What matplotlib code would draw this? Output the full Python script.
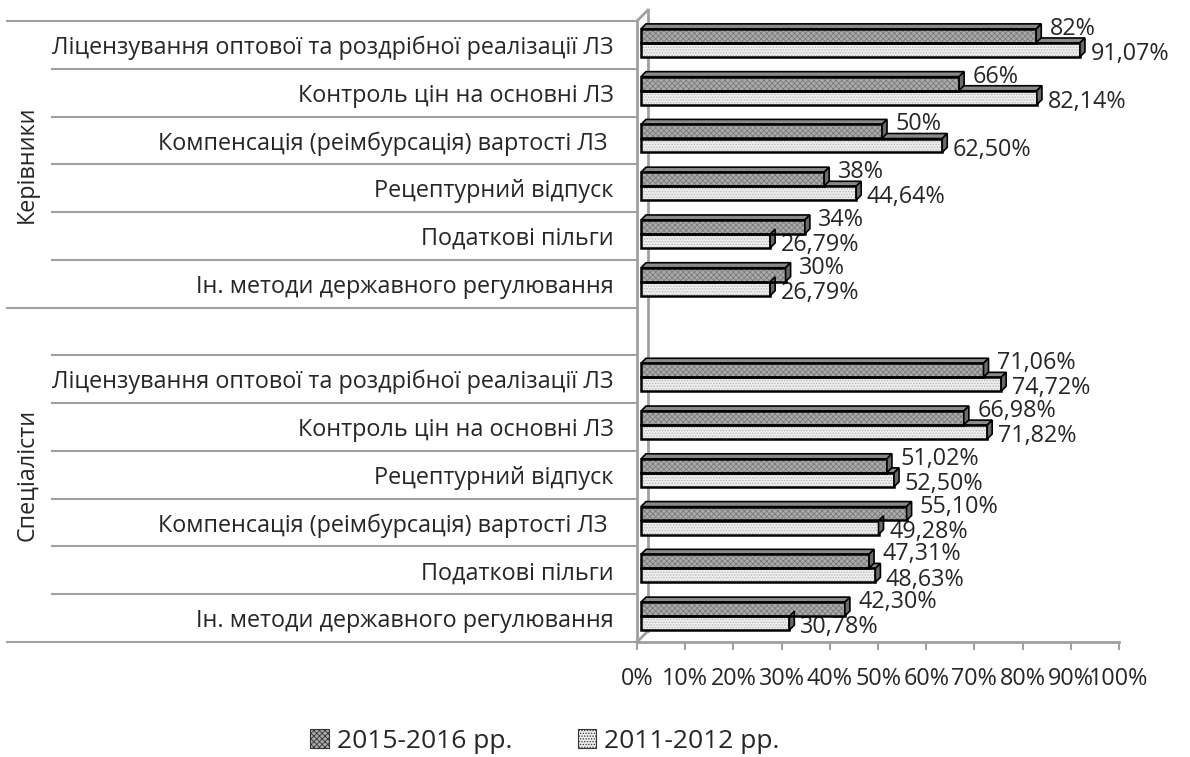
import matplotlib
matplotlib.use('Agg')
import matplotlib.pyplot as plt
from matplotlib.patches import Polygon, Patch
import matplotlib.transforms as mtrans

plt.rcParams['font.family'] = ['Open Sans', 'DejaVu Sans']
plt.rcParams['hatch.linewidth'] = 0.6

# дані
groups = ['Керівники', 'Спеціалісти']
cats_ker = ['Ліцензування оптової та роздрібної реалізації ЛЗ', 'Контроль цін на основні ЛЗ',
            'Компенсація (реімбурсація) вартості ЛЗ ', 'Рецептурний відпуск',
            'Податкові пільги', 'Ін. методи державного регулювання']
ker_2015 = [82, 66, 50, 38, 34, 30]
ker_2011 = [91.07, 82.14, 62.50, 44.64, 26.79, 26.79]
cats_spec = ['Ліцензування оптової та роздрібної реалізації ЛЗ', 'Контроль цін на основні ЛЗ',
             'Рецептурний відпуск', 'Компенсація (реімбурсація) вартості ЛЗ ',
             'Податкові пільги', 'Ін. методи державного регулювання']
spec_2015 = [71.06, 66.98, 51.02, 55.10, 47.31, 42.30]
spec_2011 = [74.72, 71.82, 52.50, 49.28, 48.63, 30.78]
series_names = ['2015-2016 рр.', '2011-2012 рр.']
xticks = list(range(0, 101, 10))

# категорії зверху вниз, з порожнім рядком між групами
cats = cats_ker + [''] + cats_spec
v2015 = ker_2015 + [None] + spec_2015
v2011 = ker_2011 + [None] + spec_2011
lab2015 = ['{:.0f}%'.format(v) for v in ker_2015] + [''] + \
          ['{:.2f}%'.format(v).replace('.', ',') for v in spec_2015]
lab2011 = ['{:.2f}%'.format(v).replace('.', ',') for v in ker_2011] + [''] + \
          ['{:.2f}%'.format(v).replace('.', ',') for v in spec_2011]

TXT = '#262626'
FS = 16.8

n = len(cats)
W, H = 1190, 757
fig = plt.figure(figsize=(W / 100, H / 100), dpi=100)
ax = fig.add_axes([637 / W, 1 - 642 / H, (1119 - 637) / W, (642 - 21) / H])
ax.set_xlim(0, 100)
ax.set_ylim(-0.5, n - 0.5)

pxx = (1119 - 637) / 100.0      # пікселів на 1%
pxy = (642 - 21) / n            # пікселів на рядок
dx, dy = 5 / pxx, 5 / pxy       # глибина 3D
x0 = 4 / pxx                    # зсув початку стовпчиків
h = 0.29

styles = {
    '2015': dict(fc='#ababab', hc='#7a7a7a', hatch='xxxxxx'),
    '2011': dict(fc='#ededed', hc='#b4b4b4', hatch='......'),
}


def bar3d(y, v, st):
    ax.barh(y, v, left=x0, height=h, color=st['fc'], edgecolor=st['hc'], hatch=st['hatch'],
            lw=0, zorder=3)
    ax.barh(y, v, left=x0, height=h, fill=False, edgecolor='black', lw=1.8, zorder=4)
    x1 = x0 + v
    yt, yb = y + h / 2, y - h / 2
    top = Polygon([(x0, yt), (x1, yt), (x1 + dx, yt + dy), (x0 + dx, yt + dy)],
                  closed=True, fc='#8a8a8a', ec='black', lw=1.2, zorder=2)
    side = Polygon([(x1, yb), (x1 + dx, yb + dy), (x1 + dx, yt + dy), (x1, yt)],
                   closed=True, fc='#6a6a6a', ec='black', lw=1.2, zorder=4)
    ax.add_patch(top)
    ax.add_patch(side)


for i in range(n):
    yc = n - 1 - i
    if v2015[i] is None:
        continue
    y_dark = yc + 0.19
    y_light = yc - 0.105
    bar3d(y_light, v2011[i], styles['2011'])
    bar3d(y_dark, v2015[i], styles['2015'])
    ax.annotate(lab2015[i], (x0 + v2015[i] + dx, y_dark), xytext=(6, 5),
                textcoords='offset points', va='center', ha='left', fontsize=FS, color=TXT)
    ax.annotate(lab2011[i], (x0 + v2011[i] + dx, y_light), xytext=(4, -3),
                textcoords='offset points', va='center', ha='left', fontsize=FS, color=TXT)

# осі
for s in ['top', 'right']:
    ax.spines[s].set_visible(False)
for s in ['left', 'bottom']:
    ax.spines[s].set_color('#a0a0a0')
    ax.spines[s].set_linewidth(2)
ax.set_xticks(xticks)
ax.set_xticklabels(['{}%'.format(t) for t in xticks], fontsize=FS, color=TXT)
ax.tick_params(axis='x', length=6, width=1.5, color='#a0a0a0', pad=12)
ax.set_yticks([n - 1 - i for i in range(n)])
ax.set_yticklabels(cats, fontsize=FS, color=TXT)
ax.tick_params(axis='y', length=0, pad=17)

# задня стінка
wx, wy = 11 / pxx, 11 / pxy
ax.plot([wx, wx], [-0.5 + wy, n - 0.5 + wy], color='#a0a0a0', lw=2, clip_on=False, zorder=1)
ax.plot([0, wx], [n - 0.5, n - 0.5 + wy], color='#a0a0a0', lw=2, clip_on=False, zorder=1)
ax.plot([0, wx], [-0.5, -0.5 + wy], color='#a0a0a0', lw=2, clip_on=False, zorder=1)

# роздільники категорій і груп
tr = mtrans.blended_transform_factory(ax.transAxes, ax.transData)
xl_cat = (52 - 637) / (1119 - 637)
xl_grp = (7 - 637) / (1119 - 637)
group_edges = [0, 6, n]
for k in range(n + 1):
    yb = n - 0.5 - k
    xl = xl_grp if k in group_edges else xl_cat
    ax.plot([xl, 0], [yb, yb], color='#a0a0a0', lw=1.5, transform=tr, clip_on=False)

# назви груп
xg = (27 - 637) / (1119 - 637)
ax.text(xg, n - 1 - 2.5, groups[0], rotation=90, transform=tr, ha='center', va='center',
        fontsize=FS, color=TXT)
ax.text(xg, n - 1 - 9, groups[1], rotation=90, transform=tr, ha='center', va='center',
        fontsize=FS, color=TXT)

handles = [Patch(fc=styles['2015']['fc'], ec='#333333', hatch=styles['2015']['hatch'], lw=0.8),
           Patch(fc=styles['2011']['fc'], ec='#333333', hatch=styles['2011']['hatch'], lw=0.8)]
fig.legend(handles, series_names, loc='center', bbox_to_anchor=(0.458, 1 - 741 / H), ncol=2,
           frameon=False, fontsize=19, handlelength=0.7, handleheight=0.7, handletextpad=0.3,
           columnspacing=2.5, labelcolor=TXT)

fig.savefig('out.png', dpi=100)
